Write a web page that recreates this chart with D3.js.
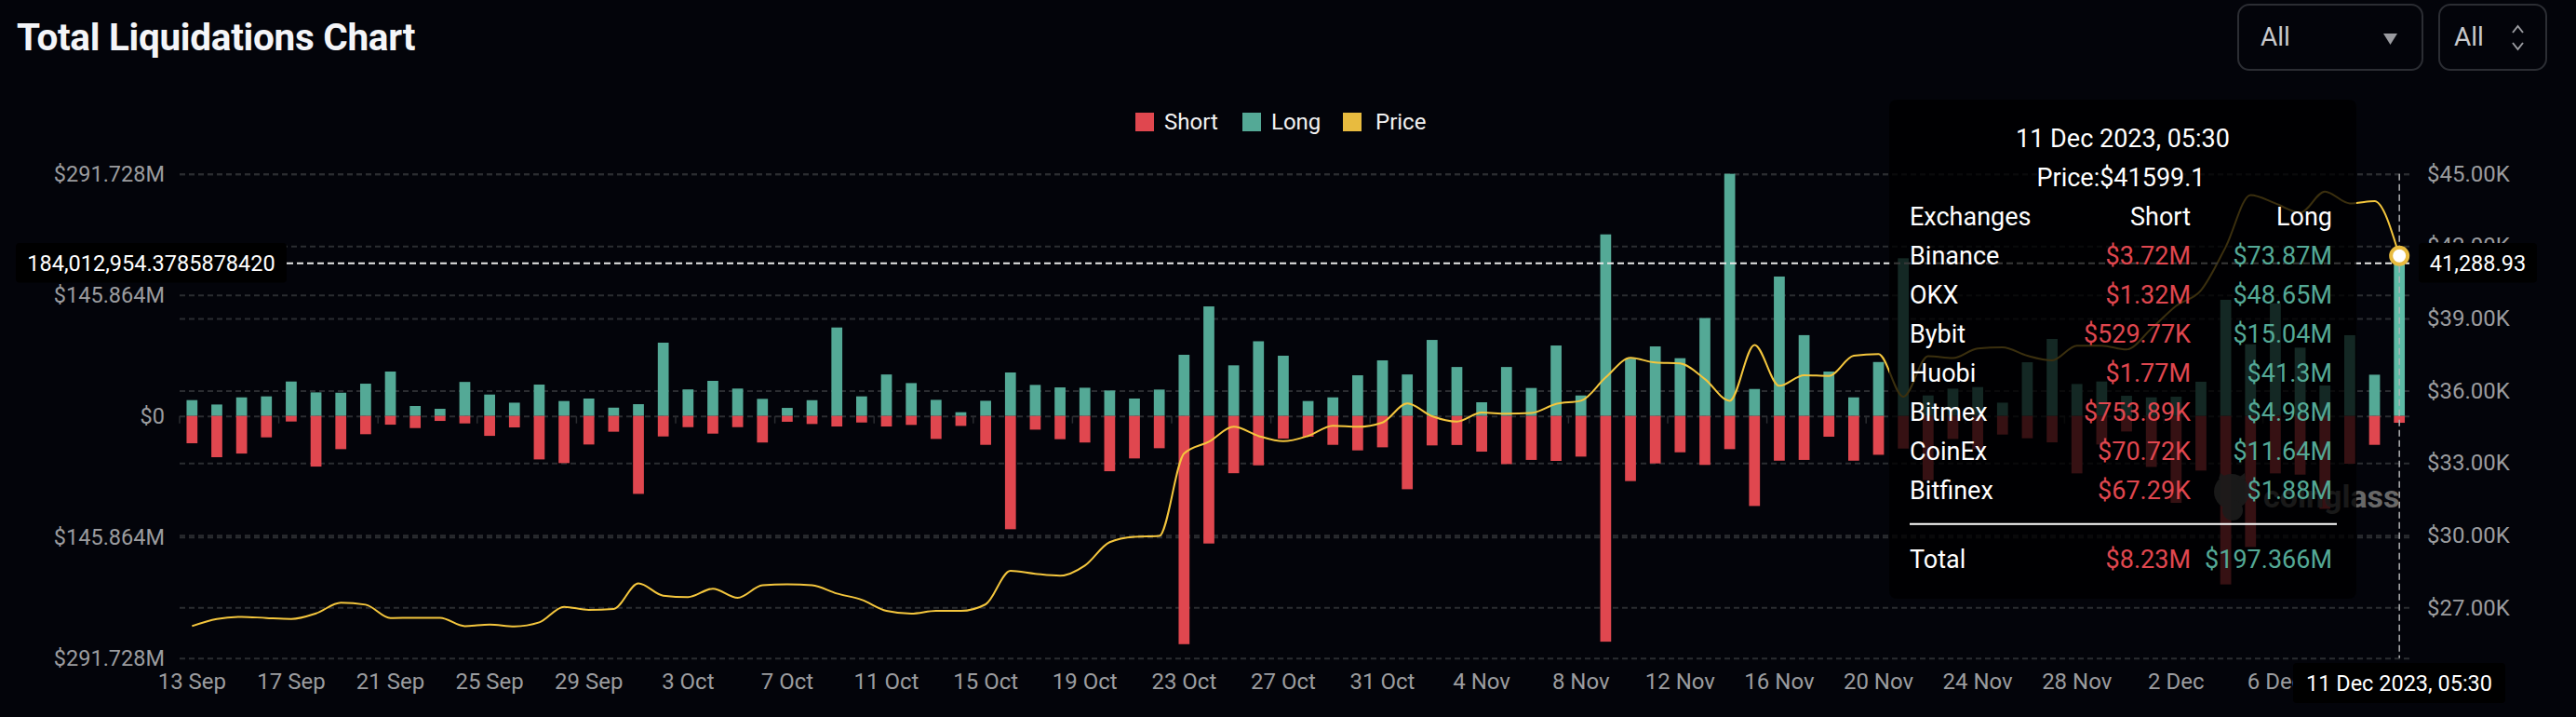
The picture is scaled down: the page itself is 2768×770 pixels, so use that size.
<!DOCTYPE html>
<html>
<head>
<meta charset="utf-8">
<script src="https://cdn.jsdelivr.net/npm/d3@7"></script>
<style>
  html, body { margin: 0; padding: 0; background: #03040a; }
  text { font-family: Roboto, sans-serif; }
</style>
</head>
<body>
<div id="chart"></div>
<script>
// one entry per day
const days = [
  '13 Sep','14 Sep','15 Sep','16 Sep','17 Sep','18 Sep','19 Sep','20 Sep','21 Sep','22 Sep',
  '23 Sep','24 Sep','25 Sep','26 Sep','27 Sep','28 Sep','29 Sep','30 Sep','1 Oct','2 Oct',
  '3 Oct','4 Oct','5 Oct','6 Oct','7 Oct','8 Oct','9 Oct','10 Oct','11 Oct','12 Oct',
  '13 Oct','14 Oct','15 Oct','16 Oct','17 Oct','18 Oct','19 Oct','20 Oct','21 Oct','22 Oct',
  '23 Oct','24 Oct','25 Oct','26 Oct','27 Oct','28 Oct','29 Oct','30 Oct','31 Oct','1 Nov',
  '2 Nov','3 Nov','4 Nov','5 Nov','6 Nov','7 Nov','8 Nov','9 Nov','10 Nov','11 Nov',
  '12 Nov','13 Nov','14 Nov','15 Nov','16 Nov','17 Nov','18 Nov','19 Nov','20 Nov','21 Nov',
  '22 Nov','23 Nov','24 Nov','25 Nov','26 Nov','27 Nov','28 Nov','29 Nov','30 Nov','1 Dec',
  '2 Dec','3 Dec','4 Dec','5 Dec','6 Dec','7 Dec','8 Dec','9 Dec','10 Dec','11 Dec'
];

// millions of dollars
const longValues = [
  19.1,13.8,22.4,23.6,41.5,28.4,28,38.9,53.5,12,
  8.6,41,25.8,16,37.8,18,21,10,14.2,88.3,
  32,42.3,33,20.6,9.7,19,106.6,23.6,50,39.6,
  19.4,4.5,18.3,52.4,37.4,34.4,34,30.7,21,31.8,
  73.7,132,61,90,72.6,18,22.4,49,67,50,
  91.6,59,16.5,59,33.7,84.9,24.7,218.8,69,83.8,
  69.6,118,291.8,32.5,168,97.4,53.5,22.4,65,190,
  24.7,32.9,34.8,16,64.7,92.8,38.5,41.5,24.3,22.4,
  23.2,41.2,140,86.4,135.8,82.3,36.7,97.3,49.7,197.366
];

const shortValues = [
  32.9,49.7,45.3,25.8,6.7,61,40,22,10.5,14.6,
  6,9,24,13.8,52.4,56.8,34.4,19,93.9,24.7,
  13.5,21.3,13.5,32,7,9.7,12.7,7.9,12.7,10.8,
  27.7,12,34.8,136.5,16.5,28,32,66.6,51.2,38.9,
  275,153.7,69,59.5,27.3,25,34.8,41.5,37.8,88.3,
  35.5,35,43,58,53,54.2,49,272,78.5,57.2,
  43.8,59,40,108.5,53.9,53,25,53.9,46.8,39.3,
  77.4,27.7,40,22.4,26.9,31.8,69.2,34.4,18.7,61.4,
  104.7,65.8,203,157.9,69.2,70.7,111.9,57.6,34.8,8.23
];

const priceValues = [
  26226,26524,26613,26562,26524,26755,27195,27116,26562,26574,
  26574,26226,26290,26213,26380,27027,26900,26940,28000,27490,
  27430,27780,27400,27920,27960,27920,27580,27320,26860,26745,
  26860,26860,27130,28520,28400,28320,28740,29710,29930,29970,
  33390,33880,34500,34120,33900,34120,34540,34500,34680,35470,
  34940,34720,35090,35040,35070,35450,35580,36550,37360,37170,
  37130,36480,35580,37900,36200,36640,36610,37450,37520,35750,
  37430,37350,37750,37800,37450,37260,37870,37870,37710,38570,
  39520,40160,41970,44120,43775,43390,44265,43775,43870,41599
];

const xTickLabels = ['13 Sep','17 Sep','21 Sep','25 Sep','29 Sep','3 Oct','7 Oct','11 Oct','15 Oct','19 Oct',
  '23 Oct','27 Oct','31 Oct','4 Nov','8 Nov','12 Nov','16 Nov','20 Nov','24 Nov','28 Nov','2 Dec','6 Dec'];
const leftTicks = [291.728, 145.864, 0, -145.864, -291.728];
const rightTicks = [45000, 42000, 39000, 36000, 33000, 30000, 27000];

// tooltip rows
const exchanges = ['Binance','OKX','Bybit','Huobi','Bitmex','CoinEx','Bitfinex'];
const shortRows = ['$3.72M','$1.32M','$529.77K','$1.77M','$753.89K','$70.72K','$67.29K'];
const longRows = ['$73.87M','$48.65M','$15.04M','$41.3M','$4.98M','$11.64M','$1.88M'];

const RED = '#e0474f', GREEN = '#54a996', YELLOW = '#e8bb3f';
const width = 2768, height = 770;
const plotLeft = 193, plotRight = 2589, plotTop = 186.7, plotBottom = 706.7;

const svg = d3.select('#chart').append('svg')
  .attr('width', width)
  .attr('height', height)
  .style('display', 'block');

const x = d3.scaleBand().domain(days).range([193, 2591.5]).paddingInner(0.56).paddingOuter(0.28);
const y = d3.scaleLinear().domain([-291.728, 291.728]).range([plotBottom, plotTop]);
const yPrice = d3.scaleLinear().domain([24900, 45000]).range([plotBottom, plotTop]);
const cx = d => x(d) + x.bandwidth() / 2;

// Title
svg.append('text').text('Total Liquidations Chart')
  .attr('x', 18).attr('y', 54)
  .attr('fill', '#f4f5f8').style('font-size', '40.5px').style('font-weight', 700)
  .style('letter-spacing', '-0.3px');

// Select boxes top right
svg.append('rect').attr('x', 2405).attr('y', 5).attr('width', 198).attr('height', 70).attr('rx', 12)
  .attr('fill', 'none').attr('stroke', '#2b2d33').attr('stroke-width', 2);
svg.append('rect').attr('x', 2621).attr('y', 5).attr('width', 115).attr('height', 70).attr('rx', 12)
  .attr('fill', 'none').attr('stroke', '#2b2d33').attr('stroke-width', 2);
svg.append('text').text('All').attr('x', 2429).attr('y', 49).attr('fill', '#c8c9cc').style('font-size', '28px');
svg.append('text').text('All').attr('x', 2637).attr('y', 49).attr('fill', '#c8c9cc').style('font-size', '28px');
svg.append('path').attr('d', 'M2561,36h15l-7.5,12z').attr('fill', '#9a9ba0');
svg.append('path').attr('d', 'M2700,35l5.5,-7l5.5,7M2700,46l5.5,7l5.5,-7')
  .attr('fill', 'none').attr('stroke', '#9a9ba0').attr('stroke-width', 2);

// Legend
const legendItems = [['Short', RED, 1220], ['Long', GREEN, 1335], ['Price', YELLOW, 1443]];
legendItems.forEach(l => {
  svg.append('rect').attr('x', l[2]).attr('y', 121).attr('width', 20).attr('height', 20).attr('fill', l[1]);
  svg.append('text').text(l[0]).attr('x', l[2] + (l[0] === 'Price' ? 35 : 31)).attr('y', 139)
    .attr('fill', '#f2f2f2').style('font-size', '24px');
});

// Axes + grid
const leftAxis = svg.append('g').attr('transform', `translate(${plotLeft},0)`)
  .call(d3.axisLeft(y).tickValues(leftTicks).tickSizeInner(-(plotRight - plotLeft)).tickSizeOuter(0).tickPadding(16)
    .tickFormat(d => d === 0 ? '$0' : `$${Math.abs(d).toFixed(3)}M`));
const rightAxis = svg.append('g').attr('transform', `translate(${plotRight},0)`)
  .call(d3.axisRight(yPrice).tickValues(rightTicks).tickSizeInner(-(plotRight - plotLeft)).tickSizeOuter(0).tickPadding(19)
    .tickFormat(d => `$${(d / 1000).toFixed(2)}K`));
[leftAxis, rightAxis].forEach(a => {
  a.select('.domain').remove();
  a.selectAll('line').attr('stroke', '#2b2d31').attr('stroke-width', 2).attr('stroke-dasharray', '6 4');
  a.selectAll('text').attr('fill', '#9b9c9f').style('font-size', '24px').style('font-family', 'Roboto, sans-serif');
});
leftAxis.selectAll('text').style('font-size', '23.5px');

// small ticks on the zero line
const tickAxis = svg.append('g').attr('transform', `translate(${-x.step() / 2},${y(0)})`)
  .call(d3.axisBottom(x).tickValues(xTickLabels).tickFormat('').tickSize(8).tickSizeOuter(0));
tickAxis.select('.domain').remove();
tickAxis.selectAll('line').attr('stroke', '#2b2d31').attr('stroke-width', 1.5);

// Date labels
const xAxis = svg.append('g').attr('transform', `translate(0,${plotBottom})`)
  .call(d3.axisBottom(x).tickValues(xTickLabels).tickSize(0).tickPadding(16));
xAxis.select('.domain').remove();
xAxis.selectAll('text').attr('fill', '#9b9c9f').style('font-size', '24px').style('font-family', 'Roboto, sans-serif');

// Bars
svg.selectAll('.long').data(days).enter().append('rect')
  .attr('class', 'long')
  .attr('x', d => x(d))
  .attr('y', (d, i) => y(longValues[i]))
  .attr('width', x.bandwidth())
  .attr('height', (d, i) => y(0) - y(longValues[i]))
  .attr('fill', (d, i) => i === days.length - 1 ? '#5dbba6' : GREEN);

svg.selectAll('.short').data(days).enter().append('rect')
  .attr('class', 'short')
  .attr('x', d => x(d))
  .attr('y', y(0))
  .attr('width', x.bandwidth())
  .attr('height', (d, i) => y(-shortValues[i]) - y(0))
  .attr('fill', RED);

// Price line
const line = d3.line()
  .x(d => cx(d))
  .y((d, i) => yPrice(priceValues[i]))
  .curve(d3.curveMonotoneX);
svg.append('path').datum(days)
  .attr('d', line)
  .attr('fill', 'none')
  .attr('stroke', '#f4c63d')
  .attr('stroke-width', 2);

// Watermark
const mark = svg.append('g').attr('fill', '#737373').attr('opacity', 0.9);
mark.append('ellipse').attr('cx', 2398).attr('cy', 528).attr('rx', 19).attr('ry', 19);
mark.append('ellipse').attr('cx', 2399).attr('cy', 548).attr('rx', 11).attr('ry', 11);
mark.append('path').attr('d', 'M2384,514l2,-6l8,6zM2404,514l8,-6l1,7z');
mark.append('text').text('coinglass').attr('x', 2432).attr('y', 545)
  .style('font-size', '34px').style('font-weight', 700);

// Crosshair
const hoverDay = days[days.length - 1];
const crossY = 282.7;
svg.append('line').attr('x1', 308).attr('x2', plotRight).attr('y1', crossY).attr('y2', crossY)
  .attr('stroke', '#e9e9e9').attr('stroke-width', 2).attr('stroke-dasharray', '7 4');

// Tooltip panel sits over the marks and dims them
svg.append('rect').attr('x', 2030).attr('y', 107).attr('width', 502).attr('height', 536).attr('rx', 8)
  .attr('fill', 'rgba(0,0,0,0.76)');

svg.append('line').attr('x1', cx(hoverDay)).attr('x2', cx(hoverDay)).attr('y1', plotTop).attr('y2', plotBottom)
  .attr('stroke', '#b0b1b3').attr('stroke-width', 1.5).attr('stroke-dasharray', '7 4');

// Highlighted price point
svg.append('circle')
  .attr('cx', cx(hoverDay)).attr('cy', yPrice(priceValues[priceValues.length - 1])).attr('r', 9)
  .attr('fill', '#fff').attr('stroke', YELLOW).attr('stroke-width', 4);

// Tooltip text
const tip = svg.append('g').style('font-size', '27px');
tip.append('text').text('11 Dec 2023, 05:30').attr('x', 2281).attr('y', 158).attr('text-anchor', 'middle').attr('fill', '#fff');
tip.append('text').text('Price:$41599.1').attr('x', 2279).attr('y', 200).attr('text-anchor', 'middle').attr('fill', '#fff');
tip.append('text').text('Exchanges').attr('x', 2052).attr('y', 242).attr('fill', '#fff');
tip.append('text').text('Short').attr('x', 2354).attr('y', 242).attr('text-anchor', 'end').attr('fill', '#fff');
tip.append('text').text('Long').attr('x', 2506).attr('y', 242).attr('text-anchor', 'end').attr('fill', '#fff');

const rowY = d3.scalePoint().domain(exchanges).range([284, 535.5]);
exchanges.forEach((name, i) => {
  tip.append('text').text(name).attr('x', 2052).attr('y', rowY(name)).attr('fill', '#fff');
  tip.append('text').text(shortRows[i]).attr('x', 2354).attr('y', rowY(name)).attr('text-anchor', 'end').attr('fill', RED);
  tip.append('text').text(longRows[i]).attr('x', 2506).attr('y', rowY(name)).attr('text-anchor', 'end').attr('fill', GREEN);
});
tip.append('line').attr('x1', 2052).attr('x2', 2511).attr('y1', 562.7).attr('y2', 562.7)
  .attr('stroke', '#fff').attr('stroke-width', 2);
tip.append('text').text('Total').attr('x', 2052).attr('y', 610).attr('fill', '#fff');
tip.append('text').text('$8.23M').attr('x', 2354).attr('y', 610).attr('text-anchor', 'end').attr('fill', RED);
tip.append('text').text('$197.366M').attr('x', 2506).attr('y', 610).attr('text-anchor', 'end').attr('fill', GREEN);

// Axis pointer labels
function pointerLabel(x0, y0, w, h, label) {
  svg.append('rect').attr('x', x0).attr('y', y0).attr('width', w).attr('height', h).attr('rx', 4).attr('fill', '#000');
  svg.append('text').text(label)
    .attr('x', x0 + w / 2).attr('y', y0 + h / 2 + 8.5)
    .attr('text-anchor', 'middle').attr('fill', '#fff').style('font-size', '23.5px');
}
pointerLabel(17, 261, 291, 42.5, '184,012,954.3785878420');
pointerLabel(2599, 261, 127, 42.5, '41,288.93');
pointerLabel(2464, 712, 228, 43, '11 Dec 2023, 05:30');
</script>
</body>
</html>
